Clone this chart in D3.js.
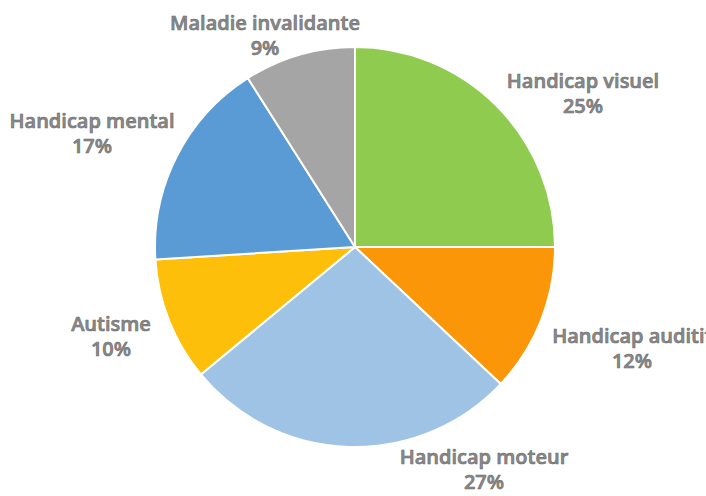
<!DOCTYPE html>
<html>
<head>
<meta charset="utf-8">
<script src="https://cdn.jsdelivr.net/npm/d3@7"></script>
<style>
  html, body { margin: 0; padding: 0; background: #fff; }
  svg { display: block; }
  .lbl { font-family: "Open Sans", sans-serif; font-weight: 600; font-size: 20px; fill: #8a8a8a; stroke: #6a6a6a; stroke-width: 0.6px; }
</style>
</head>
<body>
<svg id="chart" width="706" height="496"></svg>
<script>
// Data
const categories = ["Handicap visuel", "Handicap auditif", "Handicap moteur", "Autisme", "Handicap mental", "Maladie invalidante"];
const values = [25, 12, 27, 10, 17, 9];
const colors = ["#8fcb4f", "#fb9608", "#9ec3e5", "#fdbf0a", "#5b9bd5", "#a5a5a5"];

// Layout (label centres, not data)
const labelCenters = [[583, 88], [632, 343], [484, 464], [111, 331], [92, 128], [265, 30]];

const width = 706, height = 496;
const cx = 355, cy = 247, radius = 200;

const svg = d3.select("#chart");
const g = svg.append("g").attr("transform", `translate(${cx},${cy})`);

const data = categories.map((c, i) => ({ name: c, value: values[i], color: colors[i] }));
const pie = d3.pie().value(d => d.value).sort(null);
const arc = d3.arc().innerRadius(0).outerRadius(radius);

g.selectAll("path")
  .data(pie(data))
  .join("path")
  .attr("d", arc)
  .attr("fill", d => d.data.color)
  .attr("stroke", "#ffffff")
  .attr("stroke-width", 2)
  .attr("stroke-linejoin", "round");

const labels = svg.selectAll("text.lbl")
  .data(data)
  .join("text")
  .attr("class", "lbl")
  .attr("text-anchor", "middle")
  .attr("transform", (d, i) => `translate(${labelCenters[i][0]},${labelCenters[i][1]})`);

labels.append("tspan").attr("x", 0).attr("y", 0).text(d => d.name);
labels.append("tspan").attr("x", 0).attr("y", 25).text(d => d.value + "%");
</script>
</body>
</html>
